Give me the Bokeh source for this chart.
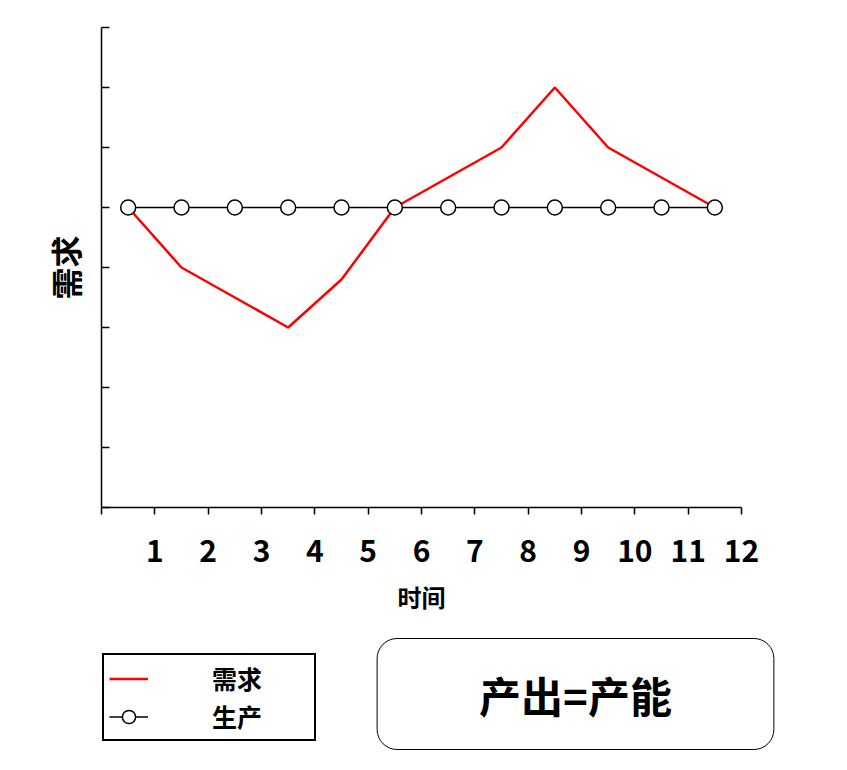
from bokeh.plotting import figure
from bokeh.layouts import column
from bokeh.models import Legend, LegendItem, Label, FixedTicker, Range1d
from bokeh.embed import file_html
from bokeh.resources import INLINE

# ---- data ----
periods = [0.5, 1.5, 2.5, 3.5, 4.5, 5.5, 6.5, 7.5, 8.5, 9.5, 10.5, 11.5]
demand = [5.0, 4.0, 3.5, 3.0, 3.8, 5.0, 5.5, 6.0, 7.0, 6.0, 5.5, 5.0]
production = [5.0, 5.0, 5.0, 5.0, 5.0, 5.0, 5.0, 5.0, 5.0, 5.0, 5.0, 5.0]
x_ticks = [0, 1, 2, 3, 4, 5, 6, 7, 8, 9, 10, 11, 12]
x_tick_labels = ["", "1", "2", "3", "4", "5", "6", "7", "8", "9", "10", "11", "12"]
y_ticks = [0, 1, 2, 3, 4, 5, 6, 7, 8]
x_title = "时间"
y_title = "需求"
legend_labels = ["需求", "生产"]
note_text = "产出=产能"

FONT = "Noto Sans CJK SC"

W = 830
H_MAIN = 625
H_BOTTOM = 125

p = figure(width=W, height=H_MAIN, output_backend="svg", toolbar_location=None,
           x_range=Range1d(0, 12), y_range=Range1d(0, 8),
           min_border_left=101, min_border_right=W - 741, min_border_top=27,
           min_border_bottom=H_MAIN - 507)
p.outline_line_color = None
p.grid.grid_line_color = None
p.background_fill_color = "white"
p.border_fill_color = "white"

# x axis
xa = p.xaxis[0]
xa.ticker = FixedTicker(ticks=x_ticks)
xa.major_label_overrides = {t: lab for t, lab in zip(x_ticks, x_tick_labels)}
xa.minor_tick_line_color = None
xa.major_tick_in = 0
xa.major_tick_out = 7
xa.major_tick_line_width = 1.5
xa.axis_line_width = 1.5
xa.major_label_standoff = 25
xa.major_label_text_font = FONT
xa.major_label_text_font_style = "bold"
xa.major_label_text_font_size = "30px"
xa.major_label_text_color = "black"
xa.axis_label = x_title
xa.axis_label_text_font = FONT
xa.axis_label_text_font_style = "bold"
xa.axis_label_text_font_size = "24px"
xa.axis_label_text_color = "black"
xa.axis_label_standoff = 14

# y axis
ya = p.yaxis[0]
ya.ticker = FixedTicker(ticks=y_ticks)
ya.major_label_overrides = {t: "" for t in y_ticks}
ya.minor_tick_line_color = None
ya.major_tick_in = 8
ya.major_tick_out = 0
ya.major_tick_line_width = 1.5
ya.axis_line_width = 1.5
ya.major_label_standoff = 0
ya.axis_label = y_title
ya.axis_label_text_font = FONT
ya.axis_label_text_font_style = "bold"
ya.axis_label_text_font_size = "32px"
ya.axis_label_text_color = "black"
ya.axis_label_standoff = 14

# series
r_demand = p.line(periods, demand, line_color="red", line_width=2.5)
r_prod_line = p.line(periods, production, line_color="black", line_width=1.5)
r_prod_pts = p.scatter(periods, production, marker="circle", size=15,
                       fill_color="white", line_color="black", line_width=1.5)

# ---- bottom panel: legend + note box ----
q = figure(width=W, height=H_BOTTOM, output_backend="svg", toolbar_location=None,
           min_border=0, min_border_left=0, min_border_right=0,
           min_border_top=0, min_border_bottom=0,
           x_axis_type=None, y_axis_type=None)

if "frame_align" in q.properties():
    q.frame_align = False
    p.frame_align = False
    frame_left, frame_right = 0, W
else:
    frame_left, frame_right = 101, 741

# page-pixel coordinates for the bottom panel (x from page left, y up from panel bottom)
q.x_range = Range1d(frame_left, frame_right)
q.y_range = Range1d(0, H_BOTTOM)
q.outline_line_color = None
q.grid.grid_line_color = None
q.background_fill_color = "white"
q.border_fill_color = "white"

# legend swatches: same series/styles as above, hidden in this panel
lg_demand = q.line(periods, demand, line_color="red", line_width=2.5, visible=False)
lg_prod_line = q.line(periods, production, line_color="black", line_width=1.5, visible=False)
lg_prod_pts = q.scatter(periods, production, marker="circle", size=15,
                        fill_color="white", line_color="black", line_width=1.5,
                        visible=False)

legend = Legend(items=[
    LegendItem(label=legend_labels[0], renderers=[lg_demand]),
    LegendItem(label=legend_labels[1], renderers=[lg_prod_line, lg_prod_pts]),
], location=(102 - frame_left, H_BOTTOM - (741 - H_MAIN)))
legend.padding = 5
legend.spacing = 2
legend.margin = 0
legend.glyph_width = 39
legend.glyph_height = 33
legend.label_standoff = 64
legend.label_width = 97
legend.label_text_font = FONT
legend.label_text_font_style = "bold"
legend.label_text_font_size = "25px"
legend.label_text_color = "black"
legend.label_text_baseline = "middle"
legend.border_line_color = "black"
legend.border_line_alpha = 1
legend.border_line_width = 2
legend.background_fill_color = "white"
legend.background_fill_alpha = 1
q.add_layout(legend, "center")

note = Label(x=575, y=H_BOTTOM - (693.5 - H_MAIN), text=note_text,
             text_font=FONT, text_font_style="bold", text_font_size="42px",
             text_align="center", text_baseline="middle", text_color="black",
             border_line_color="black", border_line_width=1,
             background_fill_color="white", border_radius=20,
             padding=dict(left=102, right=102, top=25, bottom=25))
q.add_layout(note)

layout = column(p, q, spacing=0)
open("out.html", "w").write(file_html(layout, INLINE))
